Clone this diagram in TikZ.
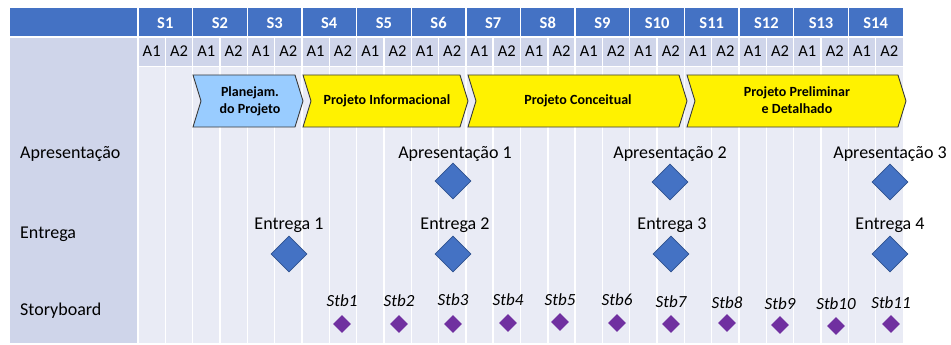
\documentclass[tikz,border=0pt]{standalone}
\usepackage{fontspec}
\setmainfont{Carlito}
\usetikzlibrary{shapes.geometric}
\definecolor{hdr}{HTML}{4472C4}
\definecolor{lite}{HTML}{CFD5EA}
\definecolor{bodyc}{HTML}{E9EBF5}
\definecolor{dborder}{HTML}{2F528F}
\definecolor{purp}{HTML}{7030A0}
\definecolor{planc}{HTML}{99CCFF}
\definecolor{chevout}{HTML}{3A3A3A}
\begin{document}
\begin{tikzpicture}[x=1pt,y=-1pt,
  grid/.style={white,line width=1.4pt},
  hdrtxt/.style={text=white,font=\fontsize{16.5}{18}\selectfont\bfseries,anchor=base,inner sep=0pt},
  atxt/.style={font=\fontsize{16.5}{18}\selectfont,anchor=base,inner sep=0pt},
  rowlbl/.style={font=\fontsize{18}{20}\selectfont,anchor=base west,inner sep=0pt},
  evlbl/.style={font=\fontsize{18}{20}\selectfont,anchor=base,inner sep=0pt},
  stblbl/.style={font=\fontsize{17}{19}\selectfont\itshape,anchor=base,inner sep=0pt},
  bigdia/.style={diamond,fill=hdr,draw=dborder,line width=0.8pt,minimum width=36pt,minimum height=36pt,inner sep=0pt},
  smalldia/.style={diamond,fill=purp,draw=none,minimum width=18pt,minimum height=18pt,inner sep=0pt},
  chev/.style={draw=chevout,line width=0.9pt,line join=miter},
  chevtxt/.style={font=\fontsize{14}{17}\selectfont\bfseries,align=center,inner sep=0pt}
]
\useasboundingbox (0,0) rectangle (951,345);
\fill[white] (0,0) rectangle (951,345);
% table backgrounds
\fill[hdr] (10,8) rectangle (903,36);
\fill[lite] (10,38) rectangle (138,343);
\fill[lite] (138,38) rectangle (903,66);
\fill[bodyc] (138,67) rectangle (903,343);
% grid lines
\draw[grid] (10,37) -- (903,37);
\draw[grid] (138,66.5) -- (903,66.5);
\foreach \k in {0,...,13} {
  \draw[grid] ({138+\k*54.643},8) -- ({138+\k*54.643},343);
  \draw[grid] ({138+\k*54.643+27.32},37) -- ({138+\k*54.643+27.32},343);
}
% header labels
\foreach \k in {1,...,14} {
  \node[hdrtxt] (s\k) at ({138+(\k-0.5)*54.643},29) {S\k};
  \node[atxt] (a\k a) at ({138+(\k-0.75)*54.643},57) {A1};
  \node[atxt] (a\k b) at ({138+(\k-0.25)*54.643},57) {A2};
}
% chevrons
\draw[chev,fill=planc] (193,75) -- (295,75) -- (303,101) -- (295,127) -- (193,127) -- (201,101) -- cycle;
\draw[chev,fill=yellow] (303,75) -- (460,75) -- (468,101) -- (460,127) -- (303,127) -- (311,101) -- cycle;
\draw[chev,fill=yellow] (468,75) -- (679,75) -- (687,101) -- (679,127) -- (468,127) -- (476,101) -- cycle;
\draw[chev,fill=yellow] (687,75) -- (898,75) -- (906,101) -- (898,127) -- (687,127) -- (695,101) -- cycle;
\node[chevtxt] (c1) at (250,101) {Planejam.\\do Projeto};
\node[chevtxt] (c2) at (387,101) {Projeto Informacional};
\node[chevtxt] (c3) at (578,101) {Projeto Conceitual};
\node[chevtxt] (c4) at (797,100) {Projeto Preliminar\\e Detalhado};
% row labels
\node[rowlbl] (lapr) at (20,158) {Apresentação};
\node[rowlbl] (lent) at (20,238) {Entrega};
\node[rowlbl] (lstb) at (20,315) {Storyboard};
% apresentacoes
\node[evlbl] (ap1t) at (455,158) {Apresentação 1};
\node[evlbl] (ap2t) at (670,158) {Apresentação 2};
\node[evlbl] (ap3t) at (890,158) {Apresentação 3};
\node[bigdia] (ap1) at (453,181) {};
\node[bigdia] (ap2) at (670,182) {};
\node[bigdia] (ap3) at (890,182) {};
% entregas
\node[evlbl] (en1t) at (289,229) {Entrega 1};
\node[evlbl] (en2t) at (455,229) {Entrega 2};
\node[evlbl] (en3t) at (672,229) {Entrega 3};
\node[evlbl] (en4t) at (890,229) {Entrega 4};
\node[bigdia] (en1) at (289,254) {};
\node[bigdia] (en2) at (453,254) {};
\node[bigdia] (en3) at (671,254) {};
\node[bigdia] (en4) at (890,254) {};
% storyboards
\foreach \n/\x/\yl/\yd in {1/342/306/324, 2/399/306/324, 3/453/305/324, 4/508/305/323, 5/560/305/322, 6/617/305/323, 7/671/307/324, 8/727/308/323, 9/780/309/325, 10/836/309/326, 11/891/308/324} {
  \node[stblbl] (stb\n t) at (\x,\yl) {Stb\n};
  \node[smalldia] (stb\n) at (\x,\yd) {};
}
\end{tikzpicture}
\end{document}
